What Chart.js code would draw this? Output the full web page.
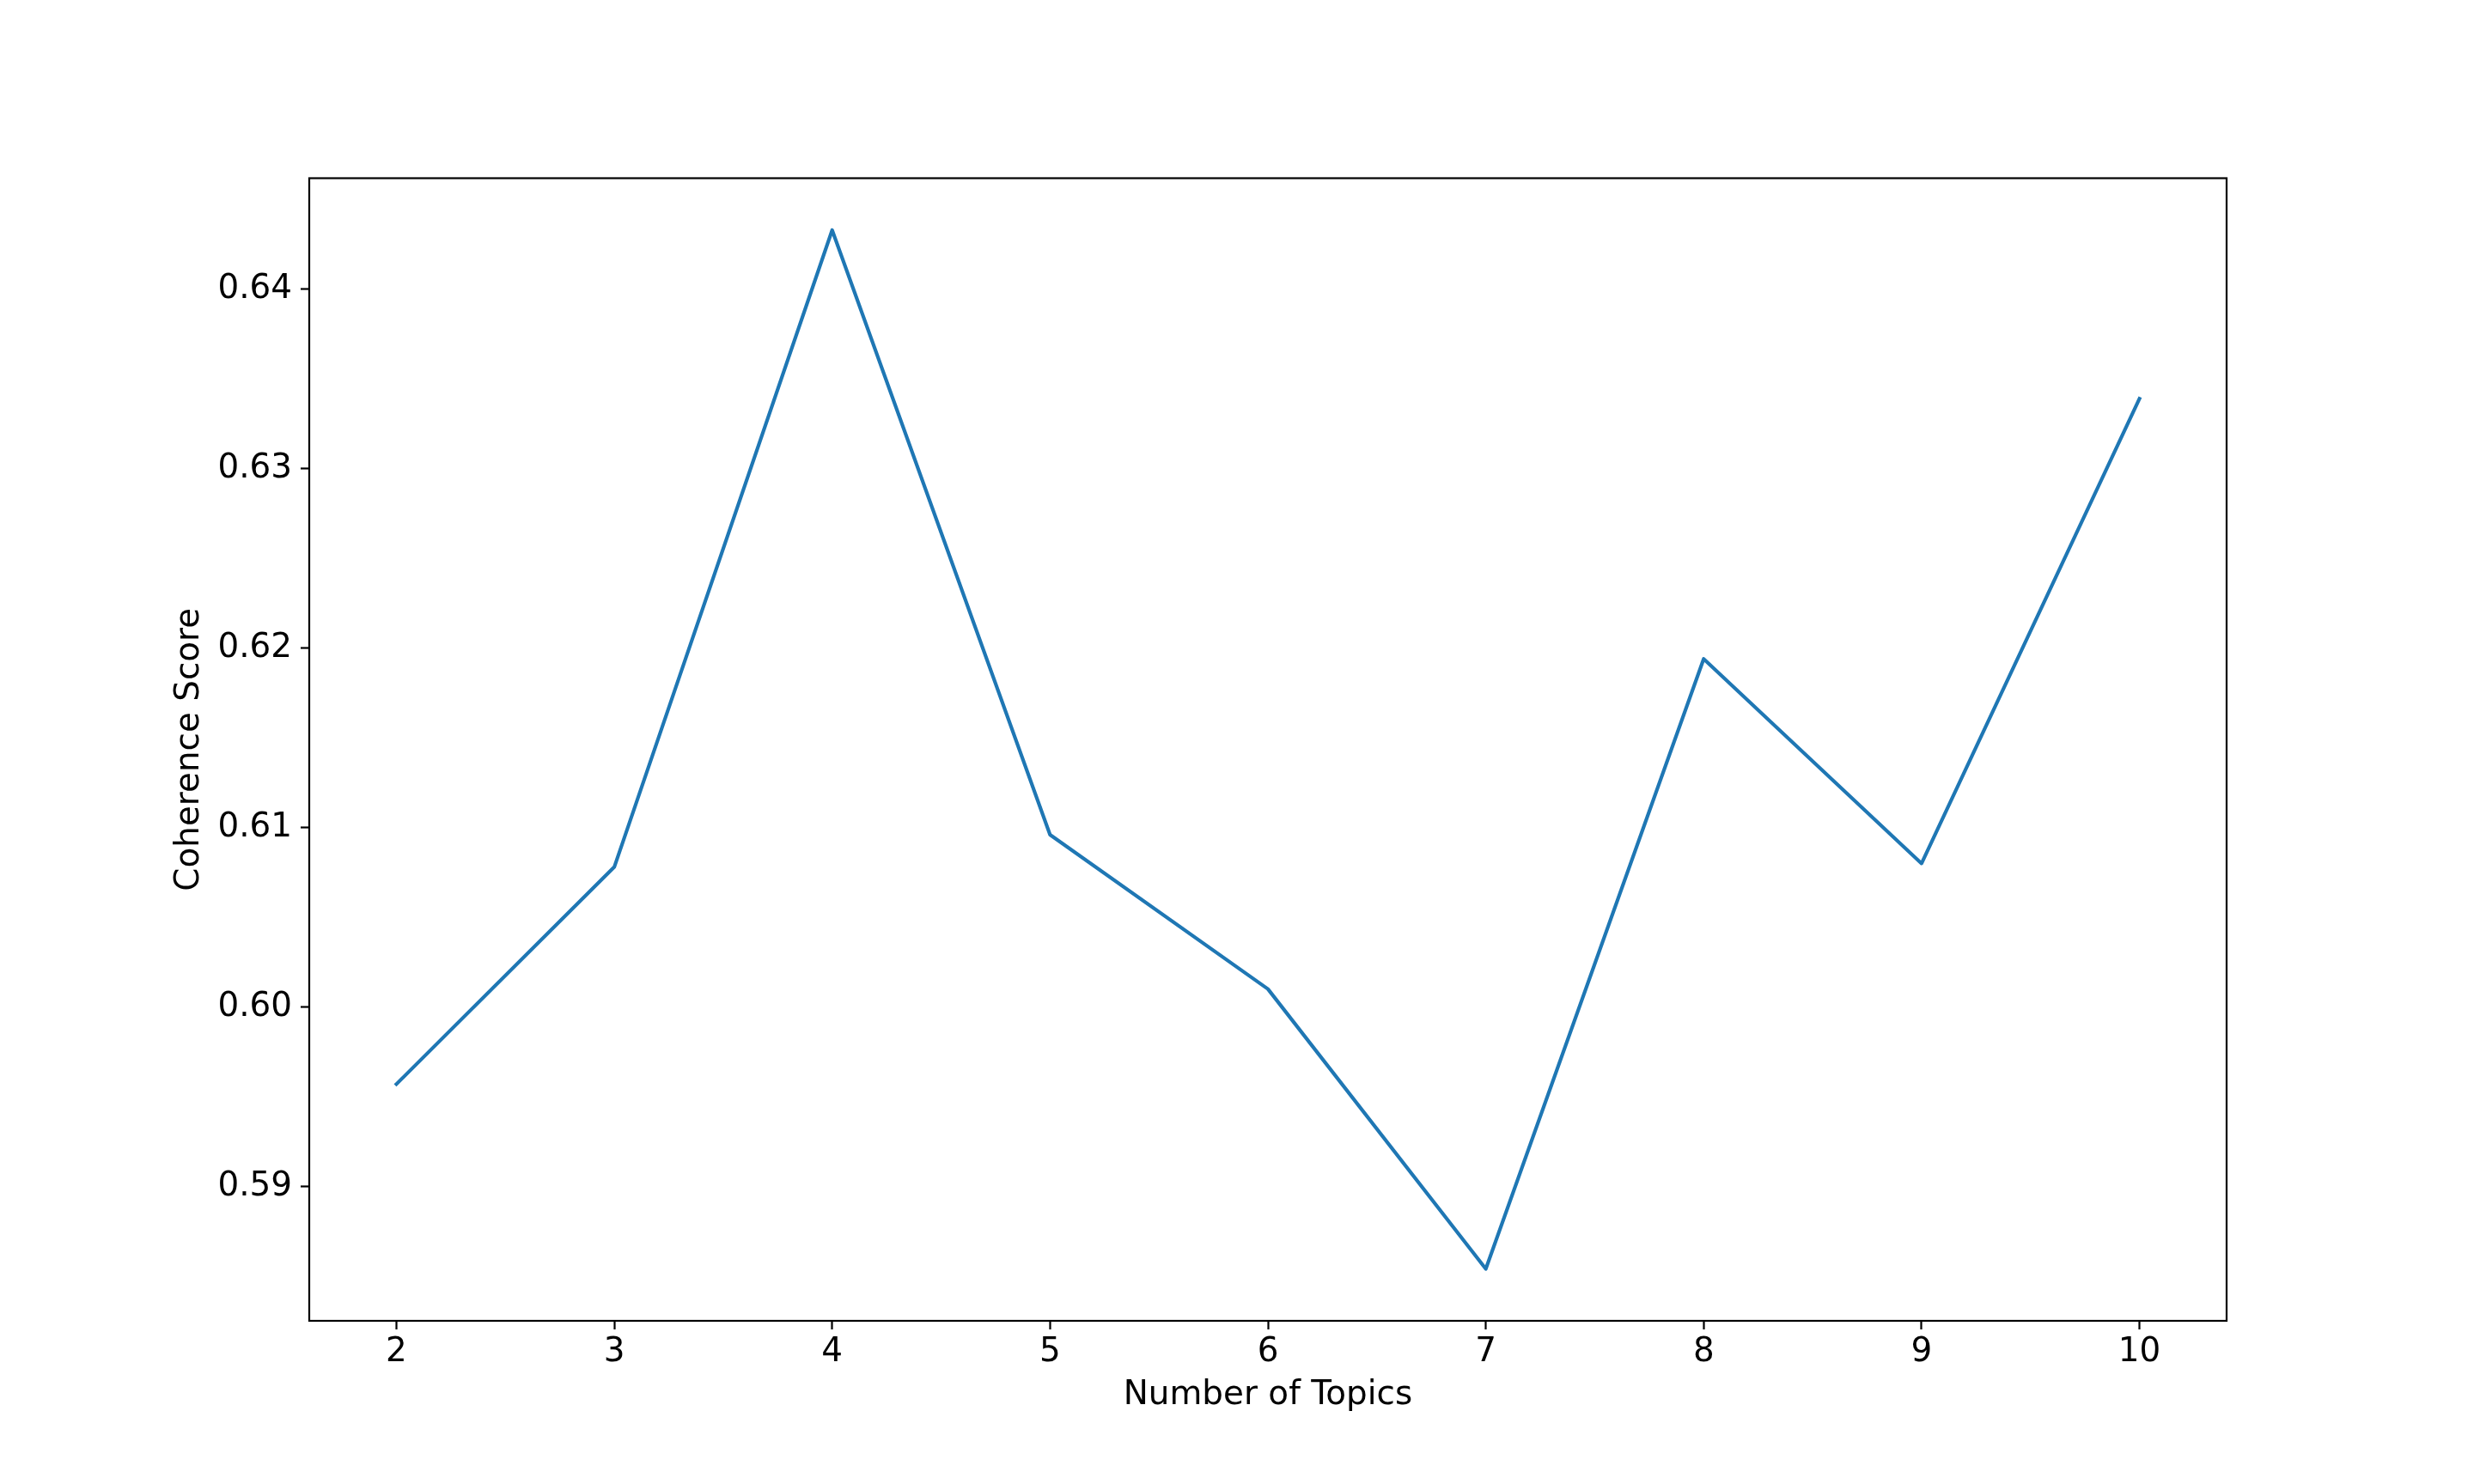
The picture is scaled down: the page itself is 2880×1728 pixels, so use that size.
<!DOCTYPE html>
<html>
<head>
<meta charset="utf-8">
<script src="https://cdn.jsdelivr.net/npm/chart.js@4.4.0/dist/chart.umd.min.js"></script>
<style>
  html, body { margin: 0; padding: 0; background: #fff; }
  #wrap { width: 2880px; height: 1728px; }
</style>
</head>
<body>
<div id="wrap"><canvas id="c" width="2880" height="1728"></canvas></div>
<script>
// ---- data ----
const topics = [2, 3, 4, 5, 6, 7, 8, 9, 10];
const coherence = [0.5957, 0.6078, 0.6433, 0.6096, 0.6010, 0.5854, 0.6194, 0.6080, 0.6339];
const xTickValues = [2, 3, 4, 5, 6, 7, 8, 9, 10];
const yTickValues = [0.59, 0.60, 0.61, 0.62, 0.63, 0.64];
const xTitle = 'Number of Topics';
const yTitle = 'Coherence Score';

// matplotlib-like 5% autoscale margins
const xMin = Math.min(...topics), xMax = Math.max(...topics);
const yMin = Math.min(...coherence), yMax = Math.max(...coherence);
const xPad = 0.05 * (xMax - xMin), yPad = 0.05 * (yMax - yMin);

const FONT = 'DejaVu Sans';

const framePlugin = {
  id: 'frame',
  afterDatasetsDraw(chart) {
    const a = chart.chartArea, ctx = chart.ctx;
    ctx.save();
    ctx.strokeStyle = '#000';
    ctx.lineWidth = 2.2;
    ctx.strokeRect(a.left, a.top, a.right - a.left, a.bottom - a.top);
    ctx.restore();
  }
};

new Chart(document.getElementById('c'), {
  type: 'line',
  data: {
    datasets: [{
      data: topics.map((t, i) => ({ x: t, y: coherence[i] })),
      borderColor: '#1f77b4',
      borderWidth: 4.17,
      pointRadius: 0,
      tension: 0,
      fill: false,
      borderJoinStyle: 'round',
      borderCapStyle: 'square'
    }]
  },
  options: {
    responsive: false,
    devicePixelRatio: 1,
    animation: false,
    layout: { padding: { top: 207.5, right: 288, bottom: 0, left: 0 } },
    plugins: { legend: { display: false }, tooltip: { enabled: false } },
    scales: {
      x: {
        type: 'linear',
        min: xMin - xPad,
        max: xMax + xPad,
        afterBuildTicks: s => { s.ticks = xTickValues.map(v => ({ value: v })); },
        afterFit: s => { s.height = 190; },
        border: { display: false },
        grid: { display: true, drawOnChartArea: false, drawTicks: true, tickLength: 10, tickWidth: 2.2, tickColor: '#000' },
        ticks: { color: '#000', font: { family: FONT, size: 38.9 }, padding: 4, maxRotation: 0, autoSkip: false,
                 callback: v => String(v) },
        title: { display: true, text: xTitle, color: '#000', font: { family: FONT, size: 38.9 }, padding: { top: 0, bottom: 80 } }
      },
      y: {
        type: 'linear',
        min: yMin - yPad,
        max: yMax + yPad,
        afterBuildTicks: s => { s.ticks = yTickValues.map(v => ({ value: v })); },
        afterFit: s => { s.width = 360; },
        border: { display: false },
        grid: { display: true, drawOnChartArea: false, drawTicks: true, tickLength: 10, tickWidth: 2.2, tickColor: '#000' },
        ticks: { color: '#000', font: { family: FONT, size: 38.9 }, padding: 10, autoSkip: false,
                 callback: v => v.toFixed(2) },
        title: { display: true, text: yTitle, color: '#000', font: { family: FONT, size: 38.9 }, padding: { top: 198, bottom: 0 } }
      }
    }
  },
  plugins: [framePlugin]
});
</script>
</body>
</html>
